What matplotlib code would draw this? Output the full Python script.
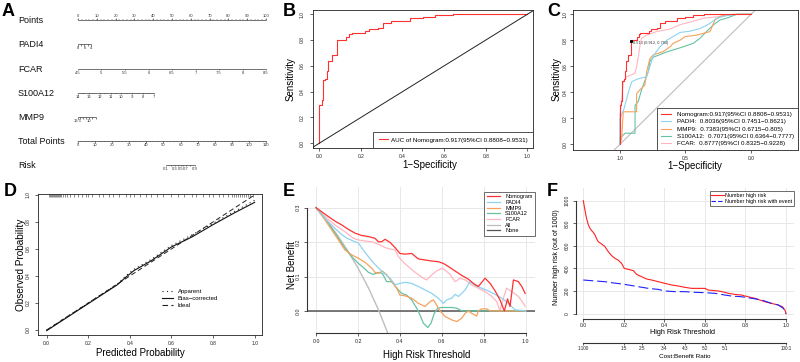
import numpy as np
import matplotlib
matplotlib.use('Agg')
import matplotlib.pyplot as plt
from matplotlib.lines import Line2D

plt.rcParams['font.family'] = ['Liberation Sans', 'DejaVu Sans']

# ------------------------------------------------------------------ data
# A: nomogram scales
points_ticks = [0, 10, 20, 30, 40, 50, 60, 70, 80, 90, 100]
padi4_values = [8, 7, 6, 5, 4]
padi4_labels = [8, 6, 4]
padi4_points = [0, 6.9]
fcar_values = [4.5, 5, 5.5, 6, 6.5, 7, 7.5, 8, 8.5]
fcar_points = [0, 100]
s100a12_values = [14, 13, 12, 11, 10, 9, 8, 7]
s100a12_points = [0, 40.4]
mmp9_values = [13.5, 13, 12, 11, 10, 9, 8]
mmp9_labels = [13.5, 10]
mmp9_points = [0, 9.4]
total_ticks = [0, 10, 20, 30, 40, 50, 60, 70, 80, 90, 100, 110]
total_max = 110
risk_values = [0.1, 0.2, 0.3, 0.4, 0.5, 0.6, 0.7, 0.8, 0.9]
risk_labels = [0.1, 0.3, 0.5, 0.7, 0.9]
risk_total_points = [51.5, 54.6, 56.7, 58.4, 60.0, 61.6, 63.3, 65.4, 68.5]

# B/C: ROC of nomogram (step corners: at fpr the curve rises to tpr)
roc_nomogram = [(0, 0), (0, 0.30), (0.011, 0.336), (0.019, 0.49), (0.03, 0.5), (0.035, 0.56),
                (0.043, 0.64), (0.061, 0.685), (0.083, 0.80), (0.128, 0.827), (0.143, 0.845),
                (0.155, 0.858), (0.22, 0.873), (0.24, 0.884), (0.284, 0.897), (0.305, 0.93),
                (0.343, 0.95), (0.436, 0.969), (0.5, 0.98), (0.556, 0.995), (0.644, 1.0), (1.0, 1.0)]
roc_padi4 = [(0, 0), (0, 0.2), (0.03, 0.27), (0.064, 0.4), (0.089, 0.48), (0.127, 0.5), (0.204, 0.52),
             (0.229, 0.6), (0.254, 0.68), (0.305, 0.75), (0.356, 0.8), (0.407, 0.83), (0.458, 0.86),
             (0.534, 0.87), (0.61, 0.89), (0.687, 0.93), (0.738, 0.97), (0.814, 0.99), (0.89, 1.0), (1.0, 1.0)]
roc_mmp9 = [(0, 0), (0.013, 0.046), (0.025, 0.25), (0.127, 0.25), (0.127, 0.39), (0.153, 0.42),
            (0.19, 0.456), (0.204, 0.56), (0.229, 0.66), (0.254, 0.687), (0.33, 0.713), (0.382, 0.75),
            (0.407, 0.777), (0.458, 0.8), (0.496, 0.828), (0.585, 0.84), (0.687, 0.867), (0.725, 0.956),
            (0.763, 0.982), (0.8, 0.995), (0.865, 1.0), (1.0, 1.0)]
roc_s100a12 = [(0, 0), (0, 0.046), (0.038, 0.085), (0.115, 0.085), (0.115, 0.30), (0.14, 0.33),
               (0.165, 0.42), (0.216, 0.56), (0.229, 0.64), (0.254, 0.67), (0.356, 0.71), (0.407, 0.726),
               (0.483, 0.75), (0.56, 0.777), (0.61, 0.815), (0.66, 0.867), (0.712, 0.918), (0.763, 0.956),
               (0.814, 0.97), (0.878, 0.995), (0.89, 1.0), (1.0, 1.0)]
roc_fcar = [(0, 0), (0, 0.23), (0.013, 0.34), (0.025, 0.48), (0.051, 0.52), (0.115, 0.546), (0.127, 0.6),
            (0.14, 0.67), (0.153, 0.76), (0.165, 0.815), (0.204, 0.84), (0.28, 0.867), (0.382, 0.887),
            (0.458, 0.92), (0.534, 0.94), (0.636, 0.97), (0.738, 0.98), (0.84, 0.995), (0.916, 1.0), (1.0, 1.0)]
best_point = (0.088, 0.794)
best_label = "0.513 (0.912, 0.794)"
auc_labels = ["Nomogram:0.917(95%CI 0.8808\u22120.9531)",
              "PADI4:  0.8036(95%CI 0.7451\u22120.8621)",
              "MMP9:  0.7383(95%CI 0.6715\u22120.805)",
              "S100A12:  0.7071(95%CI 0.6364\u22120.7777)",
              "FCAR:  0.8777(95%CI 0.8325\u22120.9228)"]

# D: calibration
cal_pred = [0.0, 0.1, 0.2, 0.3, 0.34, 0.38, 0.42, 0.5, 0.6, 0.7, 0.8, 0.9, 1.0]
cal_bias = [-0.005, 0.095, 0.195, 0.295, 0.335, 0.39, 0.44, 0.51, 0.615, 0.69, 0.78, 0.865, 0.945]
cal_apparent = [0.0, 0.1, 0.2, 0.3, 0.34, 0.4, 0.45, 0.52, 0.625, 0.705, 0.79, 0.875, 0.96]
cal_ideal = [0.0, 1.0]
rug_pred = [0.01, 0.015, 0.02, 0.025, 0.03, 0.035, 0.04, 0.045, 0.05, 0.055, 0.06, 0.065, 0.07, 0.08,
            0.09, 0.1, 0.11, 0.13, 0.15, 0.17, 0.19, 0.2, 0.22, 0.25, 0.27, 0.3, 0.32, 0.35, 0.38, 0.4,
            0.42, 0.45, 0.48, 0.5, 0.53, 0.56, 0.6, 0.63, 0.66, 0.7, 0.72, 0.75, 0.78, 0.8, 0.83, 0.85,
            0.87, 0.89, 0.9, 0.91, 0.92, 0.93, 0.94, 0.95, 0.96, 0.97, 0.98, 0.99]

# E: decision curves (threshold, net benefit)
nb_nomogram = [(0, 0.3), (0.027, 0.288), (0.059, 0.274), (0.09, 0.261), (0.122, 0.25), (0.154, 0.237),
               (0.186, 0.226), (0.218, 0.219), (0.25, 0.216), (0.281, 0.211), (0.297, 0.201), (0.313, 0.201),
               (0.329, 0.208), (0.353, 0.199), (0.377, 0.184), (0.4, 0.167), (0.424, 0.165), (0.456, 0.167),
               (0.488, 0.151), (0.52, 0.148), (0.552, 0.145), (0.583, 0.143), (0.607, 0.138), (0.631, 0.129),
               (0.663, 0.116), (0.695, 0.103), (0.727, 0.092), (0.75, 0.08), (0.774, 0.071), (0.79, 0.083),
               (0.806, 0.095), (0.83, 0.08), (0.854, 0.058), (0.877, 0.032), (0.898, 0.0), (0.913, 0.035),
               (0.925, 0.013), (0.941, 0.09), (0.965, 0.085), (0.981, 0.071), (0.997, 0.051)]
nb_padi4 = [(0, 0.3), (0.043, 0.269), (0.09, 0.24), (0.122, 0.222), (0.146, 0.212), (0.17, 0.205),
            (0.202, 0.197), (0.234, 0.17), (0.266, 0.145), (0.297, 0.125), (0.329, 0.107), (0.353, 0.095),
            (0.377, 0.076), (0.4, 0.08), (0.424, 0.083), (0.456, 0.08), (0.488, 0.071), (0.52, 0.061),
            (0.552, 0.051), (0.583, 0.037), (0.607, 0.022), (0.623, 0.032), (0.647, 0.037), (0.663, 0.048),
            (0.679, 0.042), (0.695, 0.051), (0.711, 0.061), (0.734, 0.085), (0.758, 0.075), (0.79, 0.066),
            (0.822, 0.058), (0.854, 0.048), (0.886, 0.037), (0.917, 0.022), (0.949, 0.003), (1.0, 0.0)]
nb_mmp9 = [(0, 0.3), (0.043, 0.264), (0.075, 0.235), (0.107, 0.206), (0.138, 0.177), (0.17, 0.163),
           (0.202, 0.153), (0.234, 0.141), (0.266, 0.124), (0.281, 0.112), (0.297, 0.109), (0.316, 0.116),
           (0.337, 0.105), (0.361, 0.085), (0.385, 0.066), (0.4, 0.046), (0.424, 0.044), (0.456, 0.037),
           (0.488, 0.022), (0.52, 0.013), (0.544, 0.027), (0.56, 0.032), (0.575, 0.017), (0.591, 0.0),
           (0.615, -0.016), (0.647, -0.026), (0.671, -0.031), (0.695, -0.021), (0.711, -0.007), (0.727, 0.0),
           (0.742, -0.007), (0.766, -0.015), (0.774, 0.0), (0.79, 0.006), (0.814, 0.006), (0.83, 0.0), (1.0, 0.0)]
nb_s100a12 = [(0, 0.3), (0.043, 0.269), (0.075, 0.24), (0.107, 0.211), (0.138, 0.182), (0.17, 0.158),
              (0.202, 0.138), (0.226, 0.126), (0.25, 0.112), (0.273, 0.106), (0.297, 0.112), (0.316, 0.109),
              (0.337, 0.085), (0.361, 0.085), (0.385, 0.066), (0.409, 0.051), (0.432, 0.046), (0.456, 0.032),
              (0.48, 0.008), (0.496, -0.012), (0.512, -0.036), (0.533, -0.048), (0.548, -0.036),
              (0.564, -0.007), (0.58, 0.008), (0.6, 0.01), (0.623, 0.01), (0.647, 0.01), (0.671, 0.008),
              (0.695, 0.0), (1.0, 0.0)]
nb_fcar = [(0, 0.3), (0.043, 0.274), (0.09, 0.25), (0.138, 0.23), (0.178, 0.211), (0.202, 0.206),
           (0.234, 0.203), (0.266, 0.201), (0.297, 0.194), (0.329, 0.184), (0.353, 0.18), (0.377, 0.177),
           (0.393, 0.158), (0.417, 0.141), (0.44, 0.129), (0.464, 0.116), (0.488, 0.105), (0.512, 0.095),
           (0.528, 0.09), (0.552, 0.105), (0.575, 0.116), (0.6, 0.124), (0.615, 0.119), (0.639, 0.106),
           (0.663, 0.085), (0.687, 0.095), (0.711, 0.09), (0.742, 0.076), (0.774, 0.066), (0.806, 0.056),
           (0.838, 0.042), (0.862, 0.027), (0.877, 0.0), (0.893, 0.037), (0.909, 0.066), (0.933, 0.056),
           (0.965, 0.042), (0.989, 0.022), (0.997, 0.013)]
nb_all = [(0, 0.3), (0.05, 0.263), (0.1, 0.222), (0.15, 0.176), (0.2, 0.125), (0.25, 0.067),
          (0.3, 0.0), (0.35, -0.077)]
nb_none = 0.0

# F: clinical impact (threshold, number out of 1000)
ci_high_risk = [(0, 1000), (0.008, 917), (0.016, 844), (0.025, 785), (0.033, 755), (0.041, 735),
                (0.049, 720), (0.058, 696), (0.066, 661), (0.074, 637), (0.09, 617), (0.107, 593),
                (0.123, 549), (0.14, 513), (0.156, 490), (0.173, 472), (0.189, 445), (0.202, 401),
                (0.222, 392), (0.247, 381), (0.263, 348), (0.288, 327), (0.312, 307), (0.337, 298),
                (0.37, 283), (0.403, 268), (0.436, 254), (0.469, 245), (0.502, 233), (0.535, 224),
                (0.6, 224), (0.617, 209), (0.666, 201), (0.699, 189), (0.715, 180), (0.748, 171),
                (0.781, 165), (0.798, 156), (0.847, 136), (0.896, 106), (0.929, 91), (0.962, 77),
                (0.982, 62), (0.995, 32), (1.0, 0)]
ci_with_event = [(0, 298), (0.041, 292), (0.107, 283), (0.14, 274), (0.189, 263), (0.222, 254),
                 (0.271, 239), (0.321, 224), (0.37, 215), (0.403, 201), (0.452, 195), (0.502, 195),
                 (0.551, 189), (0.6, 186), (0.65, 180), (0.699, 165), (0.732, 156), (0.781, 150),
                 (0.831, 136), (0.88, 121), (0.929, 91), (0.962, 77), (0.987, 47), (1.0, 0)]
cb_positions = [0.0, 0.2, 0.29, 0.4, 0.5, 0.6, 0.7, 1.0]
cb_labels = ["1:100", "1:5", "2:5", "3:4", "4:3", "5:2", "5:1", "100:1"]

# ------------------------------------------------------------------ figure
W, H = 800, 362
fig = plt.figure(figsize=(W / 100, H / 100), dpi=100)

def add_ax(x0, y0, x1, y1):
    return fig.add_axes([x0 / W, 1 - y1 / H, (x1 - x0) / W, (y1 - y0) / H])

def ftext(x, y, s, **kw):
    return fig.text(x / W, 1 - y / H, s, **kw)

def xy(pairs):
    a = np.array(pairs, dtype=float)
    return a[:, 0], a[:, 1]

RED = '#FF3030'
C_PADI4 = '#8DD3F0'
C_MMP9 = '#F5A25D'
C_S100 = '#66C2A5'
C_FCAR = '#FFB6C1'
TXT = '#222222'

def rbox(ax, ypad=3.0):
    for s in ax.spines.values():
        s.set_linewidth(0.6)
        s.set_color('#222222')
    ax.tick_params(direction='out', length=2.2, width=0.5, labelsize=3.5, colors=TXT, pad=2.2)
    ax.tick_params(axis='y', labelrotation=90, pad=ypad)
    for t in ax.get_yticklabels():
        t.set_va('center')

def panel_letter(x, y, s):
    ftext(x, y, s, fontsize=13, fontweight='bold', ha='left', va='center')

# ---------------- A: nomogram
LC = '#3a3a3a'
axA = add_ax(0, 0, 270, 178)
PX = 1.88
axA.set_xlim(-78 / PX, (270 - 78) / PX)
axA.set_ylim(178, 0)
axA.axis('off')

def lin(vals, pts):
    v0, v1 = vals[0], vals[-1]
    return [pts[0] + (v - v0) / (v1 - v0) * (pts[1] - pts[0]) for v in vals]

def scale_row(name, y, major, lab_x, lab_t, minor=(), above=False):
    allx = list(major) + list(minor)
    axA.plot([min(allx), max(allx)], [y, y], color=LC, lw=0.5, solid_capstyle='butt')
    d = -1 if above else 1
    axA.vlines(major, y, y + d * 1.8, color=LC, lw=0.45)
    if len(minor):
        axA.vlines(minor, y, y + d * 1.0, color=LC, lw=0.35)
    for x, t in zip(lab_x, lab_t):
        axA.text(x, y + d * 4.4, t, ha='center', va='center', fontsize=3, color='#333333')
    ftext(18, y + 0.6, name, fontsize=6.5, ha='left', va='center', color='#111111')

fmt = lambda v: f"{v:g}"
scale_row('Points', 20, points_ticks, points_ticks, [fmt(v) for v in points_ticks],
          minor=np.arange(0, 101, 2), above=True)
px_padi4 = lin(padi4_values, padi4_points)
scale_row('PADI4', 44, px_padi4, [px_padi4[padi4_values.index(v)] for v in padi4_labels],
          [fmt(v) for v in padi4_labels])
px_fcar = lin(fcar_values, fcar_points)
scale_row('FCAR', 68.5, px_fcar, px_fcar, [fmt(v) for v in fcar_values])
px_s100 = lin(s100a12_values, s100a12_points)
scale_row('S100A12', 92.5, px_s100, px_s100, [fmt(v) for v in s100a12_values],
          minor=lin(list(np.arange(14, 6.9, -0.5)), s100a12_points))
px_mmp9 = lin(mmp9_values, mmp9_points)
scale_row('MMP9', 117, px_mmp9, [px_mmp9[mmp9_values.index(v)] for v in mmp9_labels],
          [fmt(v) for v in mmp9_labels])
px_total = [t * 100 / total_max for t in total_ticks]
scale_row('Total Points', 141, px_total, px_total, [fmt(v) for v in total_ticks],
          minor=[t * 100 / total_max for t in np.arange(0, 111, 2)])
px_risk = [t * 100 / total_max for t in risk_total_points]
scale_row('Risk', 164.5, px_risk, [px_risk[risk_values.index(v)] for v in risk_labels],
          [fmt(v) for v in risk_labels])
panel_letter(1.5, 12, 'A')

# ---------------- B: ROC nomogram
axB = add_ax(313, 10, 533, 148.3)
axB.set_xlim(-0.03, 1.027)
axB.set_ylim(-0.039, 1.033)
bx, by = xy(roc_nomogram)
axB.plot(bx, by, drawstyle='steps-post', color=RED, lw=0.8)
axB.axline((0, 0), (1, 1), color='#222222', lw=0.7)
ticks = [0, 0.2, 0.4, 0.6, 0.8, 1.0]
axB.set_xticks(ticks, [f"{t:.1f}" for t in ticks])
axB.set_yticks(ticks, [f"{t:.1f}" for t in ticks])
rbox(axB, ypad=3.5)
legB = axB.legend([Line2D([], [], color=RED, lw=0.8)], ["AUC of Nomogram:0.917(95%CI 0.8808\u22120.9531)"],
                  loc='lower right', bbox_to_anchor=(1, 0), borderaxespad=0, fontsize=4.5,
                  fancybox=False, edgecolor='#333333', framealpha=1, handlelength=1.4,
                  handletextpad=0.5, borderpad=0.9)
legB.get_frame().set_linewidth(0.6)
ftext(291, 79, 'Sensitivity', fontsize=7, rotation=90, ha='center', va='center')
ftext(430, 164.5, '1\u2212Specificity', fontsize=7, ha='center', va='center')
panel_letter(283, 12, 'B')

# ---------------- C: ROC comparison
axC = add_ax(573.3, 10, 797.7, 150)
axC.set_xlim(-0.356, 1.356)
axC.set_ylim(-0.044, 1.033)
axC.axline((0, 0), (1, 1), color='#BDBDBD', lw=0.8)
series_c = [(roc_nomogram, RED, True), (roc_padi4, C_PADI4, False), (roc_mmp9, C_MMP9, False),
            (roc_s100a12, C_S100, False), (roc_fcar, C_FCAR, False)]
for data, col, step in reversed(series_c):
    cx, cy = xy(data)
    if step:
        axC.plot(cx, cy, drawstyle='steps-post', color=col, lw=0.8)
    else:
        axC.plot(cx, cy, color=col, lw=0.8)
axC.plot([best_point[0]], [best_point[1]], 's', color='black', ms=1.2)
axC.text(best_point[0] + 0.015, best_point[1] - 0.015, best_label, fontsize=2.8, color='#333333',
         ha='left', va='center')
axC.set_xticks([0, 0.5, 1.0], ['1.0', '0.5', '0.0'])
axC.set_yticks(ticks, [f"{t:.1f}" for t in ticks])
rbox(axC, ypad=2.0)
legC = axC.legend([Line2D([], [], color=c, lw=0.8) for _, c, _ in series_c], auc_labels,
                  loc='lower right', bbox_to_anchor=(1, 0), borderaxespad=0, fontsize=4.5,
                  fancybox=False, edgecolor='#333333', framealpha=1, handlelength=1.7,
                  handletextpad=0.9, borderpad=0.6, labelspacing=0.3)
legC.get_frame().set_linewidth(0.6)
ftext(557, 79, 'Sensitivity', fontsize=7, rotation=90, ha='center', va='center')
ftext(695, 166, '1\u2212Specificity', fontsize=7, ha='center', va='center')
panel_letter(547, 12, 'C')

# ---------------- D: calibration
axD = add_ax(38.3, 194, 261.7, 335)
axD.set_xlim(-0.04, 1.034)
axD.set_ylim(-0.037, 1.007)
axD.plot(cal_ideal, cal_ideal, color='#222222', lw=0.7, ls=(0, (5, 3)))
axD.plot(cal_pred, cal_apparent, color='#222222', lw=0.8, ls=(0, (1, 3)))
axD.plot(cal_pred, cal_bias, color='#111111', lw=0.8)
axD.vlines(rug_pred, 0.978, 1.0, transform=axD.get_xaxis_transform(), color='#333333', lw=0.4)
axD.set_xticks(ticks, [f"{t:.1f}" for t in ticks])
axD.set_yticks(ticks, [f"{t:.1f}" for t in ticks])
rbox(axD, ypad=3.0)
legD = axD.legend([Line2D([], [], color='#222222', lw=0.8, ls=(0, (1, 3))),
                   Line2D([], [], color='#111111', lw=0.8),
                   Line2D([], [], color='#222222', lw=0.8, ls=(0, (5, 3)))],
                  ['Apparent', 'Bias\u2212corrected', 'Ideal'],
                  loc='upper left', bbox_to_anchor=(0.545, 0.345), borderaxespad=0, frameon=False,
                  fontsize=4.3, handlelength=1.8, handletextpad=0.8, labelspacing=0.35)
ftext(20.7, 265, 'Observed Probability', fontsize=7.2, rotation=90, ha='center', va='center')
ftext(140, 353, 'Predicted Probability', fontsize=7, ha='center', va='center')
panel_letter(4, 191.5, 'D')

# ---------------- E: decision curves
axE = add_ax(307, 187, 535, 333.3)
axE.set_xlim(-0.043, 1.044)
axE.set_ylim(-0.065, 0.36)
axE.set_xticks(ticks, [f"{t:.1f}" for t in ticks])
eticks = [0.0, 0.1, 0.2, 0.3]
axE.set_yticks(eticks, [f"{t:.1f}" for t in eticks])
axE.grid(True, color='#E8E8E8', lw=0.7)
axE.set_axisbelow(True)
for s in ['top', 'right']:
    axE.spines[s].set_visible(False)
axE.spines['left'].set_bounds(0, 0.3)
axE.spines['bottom'].set_bounds(0, 1)
for s in ['left', 'bottom']:
    axE.spines[s].set_linewidth(0.8)
    axE.spines[s].set_color('#333333')
axE.tick_params(direction='out', length=2.2, width=0.5, labelsize=3.8, colors=TXT, pad=2.0)
axE.tick_params(axis='y', labelrotation=90, pad=2.5)
for t in axE.get_yticklabels():
    t.set_va('center')
axE.axhline(nb_none, color='#555555', lw=1.1)
ax_all, ay_all = xy(nb_all)
axE.plot(ax_all, ay_all, color='#BEBEBE', lw=1.0)
series_e = [(nb_nomogram, RED, 'Nomogram'), (nb_padi4, C_PADI4, 'PADI4'), (nb_mmp9, C_MMP9, 'MMP9'),
            (nb_s100a12, C_S100, 'S100A12'), (nb_fcar, C_FCAR, 'FCAR')]
for data, col, _ in reversed(series_e):
    ex, ey = xy(data)
    axE.plot(ex, ey, color=col, lw=0.9)
handles_e = [Line2D([], [], color=c, lw=0.9) for _, c, _ in series_e] + \
            [Line2D([], [], color='#BEBEBE', lw=0.9), Line2D([], [], color='#555555', lw=0.9)]
labels_e = [n for _, _, n in series_e] + ['All', 'None']
legE = axE.legend(handles_e, labels_e, loc='upper right', bbox_to_anchor=(1, 1 - 4.7 / 146.3),
                  borderaxespad=0, fontsize=4, fancybox=False, edgecolor='#555555', framealpha=1,
                  handlelength=2.4, handletextpad=0.9, borderpad=0.45, labelspacing=0.12)
legE.get_frame().set_linewidth(0.6)
ftext(292, 265, 'Net Benefit', fontsize=7, rotation=90, ha='center', va='center')
ftext(427, 355, 'High Risk Threshold', fontsize=7, ha='center', va='center')
panel_letter(283, 191.5, 'E')

# ---------------- F: clinical impact
axF = add_ax(576, 188, 794.1, 318.5)
axF.set_xlim(-0.036, 1.04)
axF.set_ylim(-42.5, 1112)
axF.set_xticks(ticks, [f"{t:.1f}" for t in ticks])
fticks = [0, 200, 400, 600, 800, 1000]
axF.set_yticks(fticks, [str(t) for t in fticks])
axF.grid(True, color='#E8E8E8', lw=0.7)
axF.set_axisbelow(True)
for s in ['top', 'right']:
    axF.spines[s].set_visible(False)
axF.spines['left'].set_bounds(0, 1000)
axF.spines['bottom'].set_bounds(0, 1)
for s in ['left', 'bottom']:
    axF.spines[s].set_linewidth(0.8)
    axF.spines[s].set_color('#333333')
axF.tick_params(direction='out', length=2.0, width=0.5, labelsize=3.6, colors=TXT, pad=1.5)
axF.tick_params(axis='y', labelrotation=90, pad=2.5)
for t in axF.get_yticklabels():
    t.set_va('center')
fx, fy = xy(ci_high_risk)
axF.plot(fx, fy, color='#FF2020', lw=0.8)
gx, gy = xy(ci_with_event)
axF.plot(gx, gy, color='#2020FF', lw=0.8, ls=(0, (9, 3.5)))
legF = axF.legend([Line2D([], [], color='#FF2020', lw=0.8),
                   Line2D([], [], color='#2020FF', lw=0.8, ls=(0, (4, 2)))],
                  ['Number high risk', 'Number high risk with event'],
                  loc='upper right', bbox_to_anchor=(1, 1 - 3 / 130.5), borderaxespad=0,
                  fontsize=3.9, fancybox=False, edgecolor='#555555', framealpha=1,
                  handlelength=2.4, handletextpad=0.2, borderpad=0.3, labelspacing=0.25)
legF.get_frame().set_linewidth(0.6)
sec = axF.secondary_xaxis(-(342.5 - 318.5) / 130.5)
sec.set_xticks(cb_positions, cb_labels)
sec.spines['bottom'].set_bounds(0, 1)
sec.spines['bottom'].set_linewidth(0.8)
sec.spines['bottom'].set_color('#333333')
sec.tick_params(direction='out', length=1.5, width=0.5, labelsize=3.3, colors=TXT, pad=0.8)
ftext(556, 257, 'Number high risk (out of 1000)', fontsize=5, rotation=90, ha='center', va='center')
ftext(682, 332.3, 'High Risk Threshold', fontsize=5.2, ha='center', va='center')
ftext(685, 356.5, 'Cost:Benefit Ratio', fontsize=4.6, ha='center', va='center')
panel_letter(547, 191.5, 'F')

fig.savefig('out.png', dpi=100)
